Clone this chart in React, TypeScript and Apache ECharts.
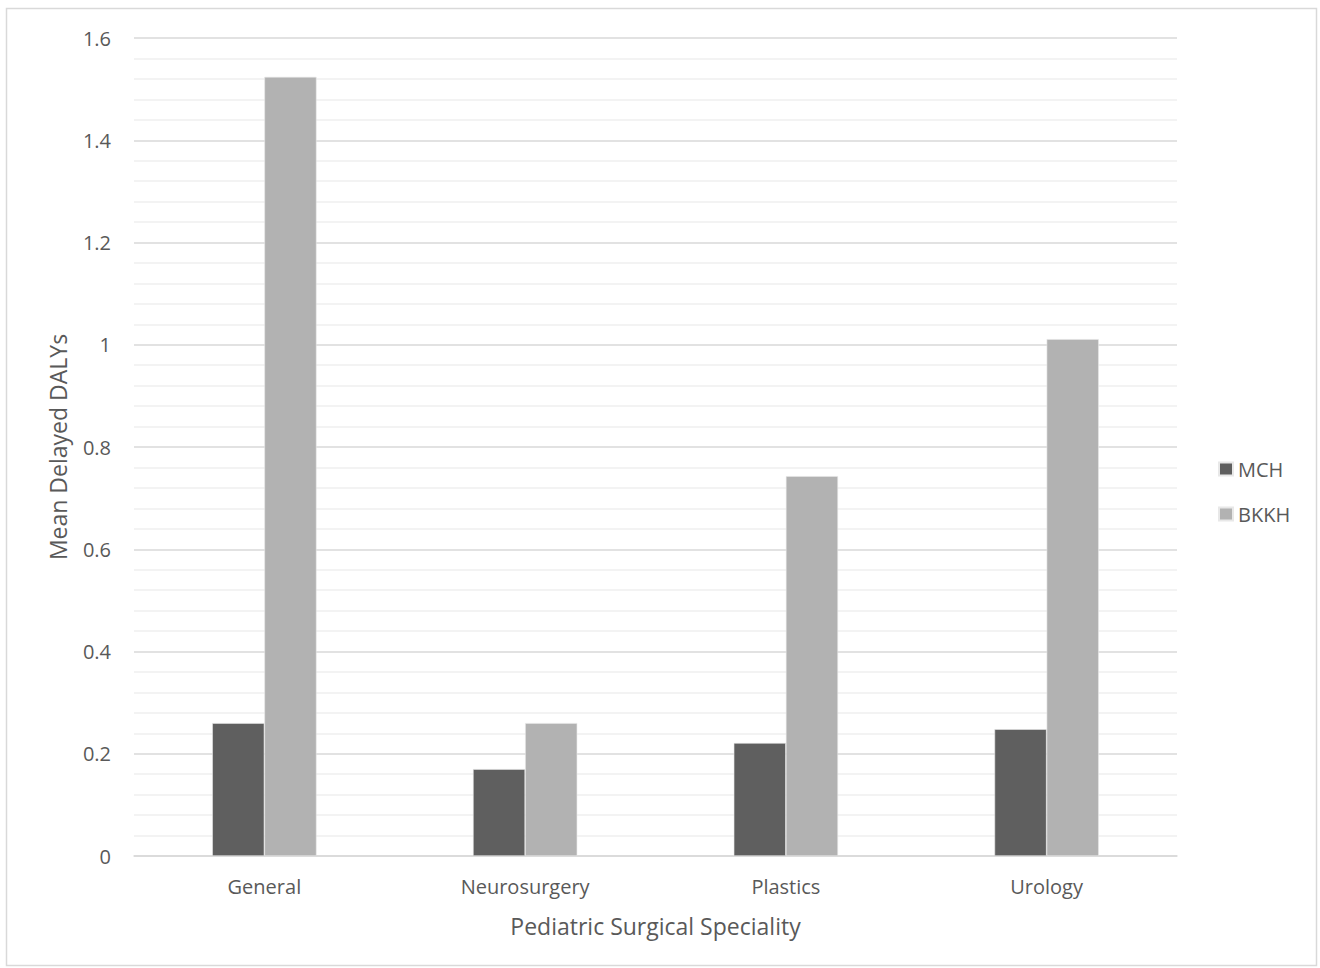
import React, { useEffect, useRef } from "react";
import * as echarts from "echarts";

const categories = ["General", "Neurosurgery", "Plastics", "Urology"];
const mchValues = [0.26, 0.17, 0.221, 0.248];
const bkkhValues = [1.524, 0.26, 0.743, 1.011];
const seriesNames = ["MCH", "BKKH"];
const xAxisTitle = "Pediatric Surgical Speciality";
const yAxisTitle = "Mean Delayed DALYs";

export default function App() {
  const ref = useRef<HTMLDivElement>(null);
  useEffect(() => {
    if (!ref.current) return;
    const chart = echarts.init(ref.current, undefined, { renderer: "svg" });
    const font = "'Open Sans', 'Noto Sans', sans-serif";
    chart.setOption({
      animation: false,
      backgroundColor: "#ffffff",
      textStyle: { fontFamily: font },
      graphic: [
        {
          type: "rect",
          shape: { x: 6.5, y: 8.5, width: 1310, height: 957 },
          style: { fill: "none", stroke: "#d9d9d9", lineWidth: 1.5 },
          silent: true,
        },
      ],
      grid: { left: 134, right: 143, top: 38, bottom: 112, containLabel: false },
      legend: {
        orient: "vertical",
        left: 1218,
        top: 459,
        padding: 0,
        icon: "rect",
        itemWidth: 14,
        itemHeight: 13,
        itemGap: 25,
        textStyle: { color: "#595959", fontSize: 20, fontFamily: font },
        data: seriesNames,
      },
      xAxis: {
        type: "category",
        data: categories,
        axisLine: { lineStyle: { color: "#d9d9d9", width: 1.5 } },
        axisTick: { show: false },
        axisLabel: { color: "#595959", fontSize: 20, margin: 20, fontFamily: font },
        name: xAxisTitle,
        nameLocation: "middle",
        nameGap: 58,
        nameTextStyle: { color: "#595959", fontSize: 23, fontFamily: font },
      },
      yAxis: {
        type: "value",
        min: 0,
        max: 1.6,
        interval: 0.2,
        axisLine: { show: false },
        axisTick: { show: false },
        axisLabel: { color: "#595959", fontSize: 20, margin: 23, fontFamily: font },
        splitLine: { lineStyle: { color: "#d9d9d9", width: 1.5 } },
        minorTick: { show: false, splitNumber: 5 },
        minorSplitLine: { show: true, lineStyle: { color: "#efefef", width: 1.5 } },
        name: yAxisTitle,
        nameLocation: "middle",
        nameGap: 65,
        nameRotate: 90,
        nameTextStyle: { color: "#595959", fontSize: 23, fontFamily: font },
      },
      series: [
        {
          name: seriesNames[0],
          type: "bar",
          data: mchValues,
          barGap: "0%",
          barCategoryGap: "60%",
          itemStyle: { color: "#5f5f5f", borderColor: "#e8e8e8", borderWidth: 0.6 },
        },
        {
          name: seriesNames[1],
          type: "bar",
          data: bkkhValues,
          barGap: "0%",
          barCategoryGap: "60%",
          itemStyle: { color: "#b2b2b2", borderColor: "#e8e8e8", borderWidth: 0.6 },
        },
      ],
    });
    return () => chart.dispose();
  }, []);
  return (
    <div
      ref={ref}
      style={{ position: "fixed", left: 0, top: 0, width: 1320, height: 968 }}
    />
  );
}
